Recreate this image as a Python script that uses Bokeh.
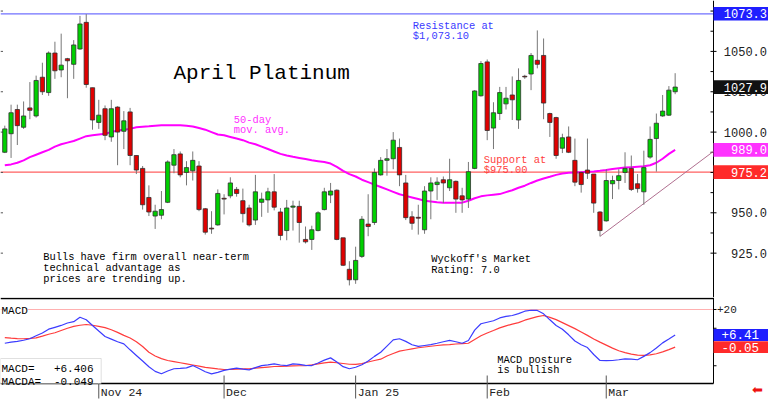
from bokeh.plotting import figure
from bokeh.layouts import column
from bokeh.models import Range1d, Label, BoxAnnotation, ColumnDataSource
from bokeh.core.properties import value
from bokeh.embed import file_html
from bokeh.resources import INLINE

# ---------------- data ----------------
opens = [987.5, 999, 1014, 1003, 1015, 1010, 1034, 1024.5, 1049, 1038.5,
         1045.5, 1042, 1051.5, 1068, 1027.5, 1006, 1014.5, 997, 1015.5, 1000.5,
         1012.5, 985.5, 977.5, 959.5, 948, 948.5, 956.5, 979.5, 986.5, 975,
         976, 979, 952.5, 940.5, 942.5, 959, 960.5, 964.5, 957.5, 953,
         945.5, 956.5, 958, 963, 950.5, 939, 953.5, 954, 933.5, 933.5,
         939, 952, 961, 964, 934.5, 915, 908.5, 923, 943, 944,
         973.5, 982.5, 983.5, 990.5, 968.5, 947.5, 947.2, 939.5, 963.5, 967.5,
         970.5, 965.5, 969.5, 960.5, 958.5, 977.5, 1022.5, 1043.5, 1002.5, 1011.5,
         1017.5, 1023, 1007.5, 1034.6, 1036, 1044.5, 1047.5, 1011.5, 1009, 990,
         997, 982.5, 975, 976.5, 974, 950.5, 945, 968, 970, 975,
         977.5, 968, 963, 984.5, 996, 1010, 1010.5, 1025]
highs = [1004, 1017, 1017, 1019, 1031, 1035, 1043, 1050, 1056, 1061,
         1046, 1057, 1072, 1073.1, 1027.5, 1020, 1016.5, 1020, 1016, 1013,
         1015, 985.5, 979, 967, 955, 963.5, 982.5, 989.5, 988, 982,
         988, 982, 953, 951, 964.5, 961.5, 972, 966, 965, 955,
         973.5, 962.5, 965.5, 974, 953, 958, 957.5, 957.5, 941.5, 942,
         951, 965.5, 968.5, 964.5, 934.5, 920, 929, 948, 961.5, 977.5,
         984.5, 989.5, 1000, 996, 973.5, 951, 955, 966.5, 972, 972,
         972.5, 983.5, 970, 965.5, 981.5, 1026, 1044, 1045, 1018.5, 1028,
         1028, 1034.5, 1039.5, 1035.5, 1049, 1063, 1058, 1012, 1009.5, 999,
         1003.5, 996, 975.5, 996, 974, 951, 977, 973, 977, 987.5,
         985.5, 974, 988.5, 1003.5, 1011.5, 1023, 1028.5, 1036.5]
lows = [987, 984, 992, 1002, 1008, 1009, 1023, 1022.5, 1033, 1034,
        1021, 1033, 1051, 1027.5, 1001.5, 1002, 995, 994, 979.5, 989.5,
        979.5, 974, 952, 948, 940, 946, 956, 974.5, 972, 967,
        970, 951, 936.5, 937, 942, 949, 959, 960, 944, 941.5,
        942.5, 947.5, 950, 951.5, 933, 933, 939, 931.5, 931, 927,
        938.5, 951.5, 956, 933, 917, 905, 906, 922, 935.5, 942.5,
        973, 973, 977, 966.5, 945.5, 939.5, 936.5, 937, 946, 958,
        956, 963.5, 950, 950, 953, 977, 1022, 995, 989.5, 1007.5,
        1014, 1007.5, 1002, 1033, 1026, 1039.5, 1008, 997, 983.5, 987,
        987, 966.5, 962.5, 971, 950, 935.4, 944.5, 958.5, 964.5, 968.5,
        963.5, 962.5, 955, 983.5, 975.5, 1009.5, 1010, 1023.5]
closes = [1002, 1012, 1004, 1010, 1013.5, 1032, 1025, 1049, 1038, 1041.5,
          1044.2, 1054, 1067, 1029.5, 1007.5, 1010.5, 998, 1014.5, 1000, 1007,
          985.5, 976.5, 955, 950.5, 951, 952, 981.5, 986, 973.5, 978,
          982.5, 952, 938, 940, 962, 958.5, 968.5, 962, 949.5, 942.5,
          963, 958.5, 963, 953.5, 936, 953, 954.2, 944, 932, 939.5,
          950, 963, 963.5, 933.5, 917.5, 908.5, 920.5, 946, 941.5, 975,
          982.5, 983.5, 995, 973.5, 947, 943.5, 946.7, 963.5, 968.5, 969,
          968.5, 970.5, 958.5, 958, 975.5, 1025.5, 1042.5, 1001, 1012, 1024.5,
          1021, 1020, 1032, 1034.2, 1047.5, 1042, 1018, 1006, 985.5, 996.5,
          987.5, 969, 967.5, 974.5, 956, 939, 970, 970, 973, 977.5,
          964.5, 965, 978, 995.5, 1005.5, 1013, 1026, 1027.9]
ma50 = [979.5, 980, 981, 982.5, 984.5, 986, 987.5, 989, 991, 992.5,
        993.5, 994.5, 996, 997.5, 998, 998.5, 999, 1000, 1001, 1001.5,
        1002, 1003, 1003.3, 1003.6, 1004, 1004.2, 1004.3, 1004.3, 1004.2, 1004,
        1003.5, 1002.5, 1001.5, 1000, 998.5, 998, 997, 996, 995, 993.5,
        992.5, 991, 989.5, 988, 986.5, 985.5, 984.7, 984, 983.3, 982.5,
        982, 981.5, 980.5, 978.5, 976, 974, 972.5, 970.5, 969, 967.5,
        966, 964.5, 963, 961.5, 960.5, 959.5, 958.5, 957.5, 957, 956.5,
        956.3, 956.2, 956.2, 956.3, 957.5, 959, 960.2, 960.8, 961.2, 961.6,
        962.8, 964, 965.5, 966.8, 968.5, 970, 971.3, 972.3, 973.5, 974.3,
        974.8, 975, 975.2, 975.4, 975.6, 976, 976.5, 977.2, 977.6, 978,
        978.3, 978.6, 978.8, 979.5, 981, 983.5, 986.5, 989.0]
macd = [2.0, 2.6, 3.0, 3.6, 4.4, 6.0, 7.5, 9.5, 10.5, 11.5,
        12.8, 13.5, 15.9, 14.5, 11.5, 8.5, 5.6, 4.2, 2.8, 1.7,
        -1.5, -4.5, -7.5, -10.5, -13.0, -14.3, -12.8, -11.6, -11.4, -11.1,
        -9.9, -11.5, -13.2, -14.3, -13.5, -12.5, -11.8, -11.3, -11.8, -12.2,
        -11.0, -9.9, -9.5, -9.0, -9.6, -9.9, -9.0, -9.3, -9.8, -9.9,
        -8.5, -7.0, -5.8, -8.0, -10.5, -11.6, -10.8, -9.5, -7.5, -5.0,
        -2.8, 0.5, 3.8, 4.4, 3.0, 1.2, 0.3, 0.8, 1.3, 2.0,
        2.8, 3.5, 2.8, 2.0, 3.5, 9.0, 12.4, 13.2, 14.0, 15.5,
        16.3, 16.8, 17.8, 19.1, 19.6, 19.5, 17.7, 14.5, 11.5, 9.5,
        6.5, 3.2, 1.2, -0.3, -4.0, -7.2, -7.3, -7.2, -6.8, -6.3,
        -6.5, -6.8, -5.0, -3.0, -0.5, 2.2, 4.3, 6.406]
macda = [5.0, 4.7, 4.5, 4.4, 4.6, 4.9, 5.8, 6.8, 7.6, 8.8,
         10.0, 11.0, 11.6, 12.0, 11.6, 11.0, 10.3, 9.2, 7.8, 6.2,
         4.8, 2.8, 0.3, -2.8, -4.8, -6.2, -7.2, -7.8, -8.4, -9.0,
         -9.6, -10.2, -10.9, -11.3, -11.7, -12.0, -12.0, -11.8, -11.7, -11.6,
         -11.3, -11.0, -10.7, -10.4, -10.3, -10.2, -10.1, -10.0, -9.9, -9.5,
         -9.0, -8.5, -8.1, -8.4, -8.8, -9.2, -9.3, -8.9, -8.0, -7.2,
         -6.5, -4.8, -3.5, -2.2, -1.6, -1.0, -0.4, 0.0, 0.4, 0.8,
         1.1, 1.3, 1.6, 1.8, 2.0, 4.0, 6.0, 7.5, 8.8, 10.2,
         11.3, 12.2, 13.0, 14.3, 15.3, 16.2, 16.8, 15.8, 14.6, 13.0,
         11.4, 9.8, 8.0, 6.2, 4.3, 2.6, 1.0, -0.6, -2.0, -3.0,
         -3.8, -4.3, -4.5, -4.2, -3.6, -2.6, -1.4, -0.049]
month_idx = [15, 35, 56, 77, 96]
month_labels = ["Nov 24", "Dec", "Jan 25", "Feb", "Mar"]
price_ticks = [925, 950, 975, 1000, 1025, 1050, 1075]
price_minor = [937.5, 962.5, 987.5, 1012.5, 1037.5, 1062.5]
macd_ticks = [-10, 0, 10, 20]
resistance = 1073.3
support = 975.2
trend_x = [95, 113.1]
trend_y = [935.4, 988.0]

# ---------------- layout helpers (reference pixels -> data) ----------------
W = 768
MAIN_H = 297
MACD_H = 102
MONO = "Liberation Mono"


def ix(x):      # pixel x -> bar index
    return (x - 4.3) / 6.265


def py(y):      # pixel y -> price (main panel)
    return 1073.3 - (y - 13.3) / 1.614


def my(y):      # pixel y (page) -> MACD value
    return (346.5 - y) / 1.875


PX_P = 1 / 1.614   # price per pixel
PX_M = 1 / 1.875   # macd per pixel
X0, XAX, XEND = ix(0), ix(713), ix(768)


def put(fig, x, y, text, color="black", size=10.4, align="left",
        baseline="alphabetic", **kw):
    lab = Label(x=x, y=y, text=text, text_color=color, text_font=MONO,
                text_font_size=f"{size}px", text_align=align,
                text_baseline=baseline, **kw)
    fig.add_layout(lab)
    return lab


def lines(fig, x, y0, gap, texts, conv, color="black", size=10.4):
    for k, t in enumerate(texts):
        put(fig, ix(x), conv(y0 + k * gap), t, color=color, size=size)


def side_box(fig, yval, half, text, bg, size, xr_text):
    fig.add_layout(BoxAnnotation(left=XAX, right=XEND, bottom=yval - half,
                                 top=yval + half, fill_color=bg, fill_alpha=1.0,
                                 line_color=None))
    put(fig, xr_text, yval, text, color="white", size=size, align="right",
        baseline="middle")


xr = Range1d(X0, XEND)

# ---------------- main price panel ----------------
p = figure(width=W, height=MAIN_H, x_range=xr, y_range=Range1d(py(297), py(0)),
           x_axis_location=None, y_axis_location=None, output_backend="svg",
           toolbar_location=None, min_border_left=0, min_border_right=0,
           min_border_top=0, min_border_bottom=0)
p.grid.visible = False
p.outline_line_color = None

idx = list(range(len(opens)))
src = ColumnDataSource(dict(
    x=idx, high=highs, low=lows,
    top=[max(o, c) for o, c in zip(opens, closes)],
    bottom=[min(o, c) for o, c in zip(opens, closes)],
    color=["#00d000" if c >= o else "#e00000" for o, c in zip(opens, closes)],
))

# horizontal levels, axis line and ticks
p.segment(x0=[X0, X0], x1=[XAX, XAX], y0=[resistance, support], y1=[resistance, support],
          line_color=["#7070ff", "#ff6060"], line_width=1.2)
p.segment(x0=[XAX], x1=[XAX], y0=[py(297)], y1=[py(0)], line_color="black", line_width=1)
p.segment(x0=[ix(710)] * len(price_ticks), x1=[ix(716)] * len(price_ticks),
          y0=price_ticks, y1=price_ticks, line_color="black", line_width=1)
p.segment(x0=[ix(710)] * len(price_minor), x1=[XAX] * len(price_minor),
          y0=price_minor, y1=price_minor, line_color="black", line_width=1)
p.segment(x0=[X0] * len(price_ticks), x1=[ix(2.5)] * len(price_ticks),
          y0=price_ticks, y1=price_ticks, line_color="#555555", line_width=1)
p.text(x=[ix(766.5)] * len(price_ticks), y=price_ticks,
       text=[f"{t:.1f}" for t in price_ticks], text_align="right",
       text_baseline="middle", text_font=value(MONO), text_font_size="12px",
       text_color="#222222")

p.line(idx, ma50, line_color="#ff00ff", line_width=2)
p.line(trend_x, trend_y, line_color="#b07090", line_width=1)
p.segment(x0="x", y0="low", x1="x", y1="high", source=src, line_color="#777777", line_width=1)
p.vbar(x="x", width=0.68, top="top", bottom="bottom", source=src,
       fill_color="color", line_color="#303030", line_width=0.8)

put(p, ix(173), py(73), "April Platinum", size=21)
lines(p, 412.3, 25, 10, ["Resistance at", "$1,073.10"], py, color="#3a3aff")
lines(p, 233.3, 119.3, 10, ["50-day", "mov. avg."], py, color="#ff30ff")
lines(p, 483.3, 159.3, 10, ["Support at", "$975.00"], py, color="#ff4040")
lines(p, 42.7, 256.7, 10.7, ["Bulls have firm overall near-term",
                             "technical advantage as",
                             "prices are trending up."], py)
lines(p, 430.7, 258.3, 11, ["Wyckoff's Market", "Rating: 7.0"], py)

HP = 6.8 * PX_P
side_box(p, resistance, HP, f"{resistance:.1f}", "#1f1fff", 12, ix(766.5))
side_box(p, closes[-1], HP, f"{closes[-1]:.1f}", "#111111", 12, ix(766.5))
side_box(p, ma50[-1], HP, f"{ma50[-1]:.1f}", "#ff33ff", 12, ix(766.5))
side_box(p, support, HP, f"{support:.1f}", "#ff2a2a", 12, ix(766.5))

# ---------------- MACD panel ----------------
q = figure(width=W, height=MACD_H, x_range=xr, y_range=Range1d(my(399), my(297)),
           x_axis_location=None, y_axis_location=None, output_backend="svg",
           toolbar_location=None, min_border_left=0, min_border_right=0,
           min_border_top=0, min_border_bottom=0)
q.grid.visible = False
q.outline_line_color = None

q.segment(x0=[X0], x1=[XAX], y0=[20], y1=[20], line_color="#ffb0b0", line_width=1)
q.line(idx, macda, line_color="#ff3c3c", line_width=1.2)
q.line(idx, macd, line_color="#3c3cff", line_width=1.2)

# panel frame lines, right axis and month separators
q.segment(x0=[X0, X0], x1=[XAX, XAX], y0=[my(298), my(383)], y1=[my(298), my(383)],
          line_color="black", line_width=1.3)
q.segment(x0=[XAX], x1=[XAX], y0=[my(383)], y1=[my(297)], line_color="black", line_width=1)
q.segment(x0=[XAX] * len(macd_ticks), x1=[ix(716)] * len(macd_ticks),
          y0=macd_ticks, y1=macd_ticks, line_color="black", line_width=1)
q.segment(x0=month_idx, x1=month_idx, y0=[my(375)] * len(month_idx),
          y1=[my(398)] * len(month_idx), line_color="#555555", line_width=1)
q.text(x=[ix(716.5)], y=[20], text=["+20"], text_align="left", text_baseline="middle",
       text_font=value(MONO), text_font_size="11px", text_color="#222222")
q.text(x=month_idx, y=[my(392.3)] * len(month_idx), text=month_labels, x_offset=2,
       text_align="left", text_baseline="alphabetic", text_font=value(MONO),
       text_font_size="11.5px", text_color="#222222")

put(q, ix(1), my(310), "MACD", size=11, background_fill_color="white")
q.add_layout(BoxAnnotation(left=X0, right=ix(100.7), bottom=my(383), top=my(358),
                           fill_color="white", fill_alpha=1.0,
                           line_color="#999999", line_width=1))
put(q, ix(1), my(368.3), "MACD=", size=11)
put(q, ix(93), my(368.3), f"{macd[-1]:+.3f}", size=11, align="right")
put(q, ix(1), my(381), "MACDA=", size=11)
put(q, ix(93), my(381), f"{macda[-1]:+.3f}", size=11, align="right")
lines(q, 496.7, 359, 10, ["MACD posture", "is bullish"], my)

HM = 5.9 * PX_M
side_box(q, macd[-1], HM, f"{macd[-1]:+.2f}", "#1f1fff", 12.5, ix(758.5))
side_box(q, macda[-1], HM, f"{macda[-1]:+.2f}", "#ff2a2a", 12.5, ix(758.5))

put(q, ix(751), my(390), "\u2b05", color="#ee1111", size=13, baseline="middle")

layout = column(p, q)
open("out.html", "w").write(file_html(layout, INLINE))
